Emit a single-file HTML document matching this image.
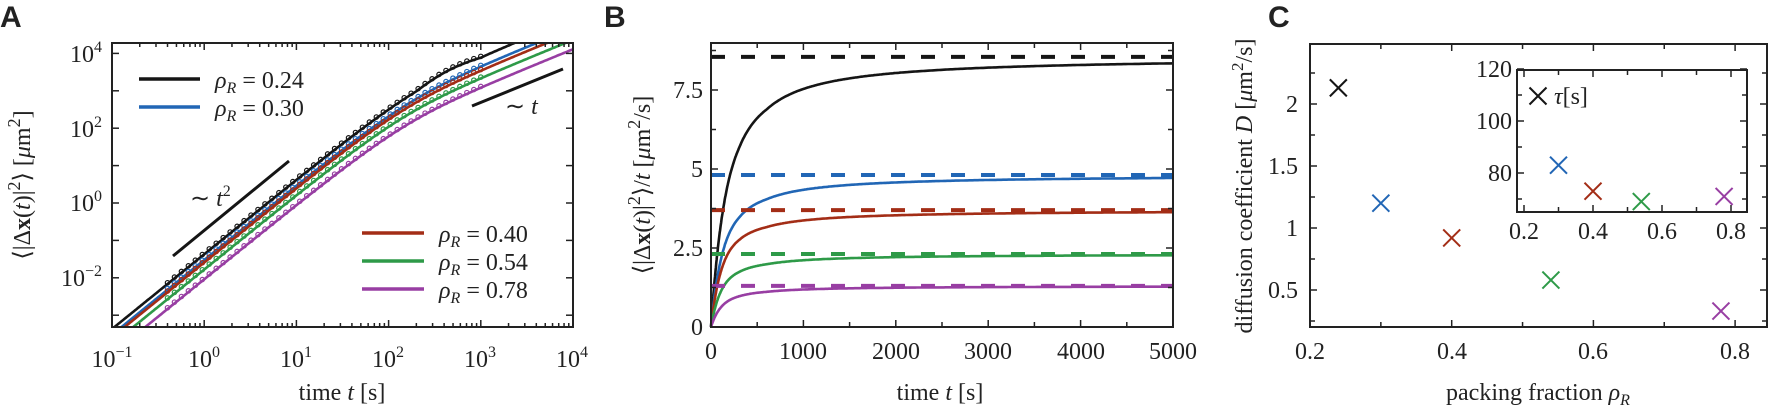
<!DOCTYPE html>
<html><head><meta charset="utf-8"><style>
html,body{margin:0;padding:0;background:#fff;}
svg{display:block;font-family:"Liberation Serif",serif;}
.t{font-size:24px;fill:#222;}
.L{font-family:"Liberation Sans",sans-serif;font-weight:bold;font-size:30px;fill:#222;}
</style></head><body>
<svg id="s" width="1772" height="407" viewBox="0 0 1772 407" xmlns="http://www.w3.org/2000/svg">
<g id="g"></g>
<text class="L" x="0" y="27">A</text>
<text class="L" x="604" y="27">B</text>
<text class="L" x="1268" y="27">C</text>

<g class="t" text-anchor="end">
<text x="102" y="62">10<tspan dy="-10" font-size="16">4</tspan></text>
<text x="102" y="137">10<tspan dy="-10" font-size="16">2</tspan></text>
<text x="102" y="211">10<tspan dy="-10" font-size="16">0</tspan></text>
<text x="102" y="286">10<tspan dy="-10" font-size="16">−2</tspan></text>
</g>
<g class="t" text-anchor="middle">
<text x="112" y="367">10<tspan dy="-10" font-size="16">−1</tspan></text>
<text x="204" y="367">10<tspan dy="-10" font-size="16">0</tspan></text>
<text x="296" y="367">10<tspan dy="-10" font-size="16">1</tspan></text>
<text x="388" y="367">10<tspan dy="-10" font-size="16">2</tspan></text>
<text x="480" y="367">10<tspan dy="-10" font-size="16">3</tspan></text>
<text x="572" y="367">10<tspan dy="-10" font-size="16">4</tspan></text>
<text x="342" y="400">time <tspan font-style="italic">t</tspan> [s]</text>
</g>
<text class="t" transform="translate(30,185) rotate(-90)" text-anchor="middle" font-size="28">⟨|Δ<tspan font-weight="bold">x</tspan>(<tspan font-style="italic">t</tspan>)|<tspan dy="-10" font-size="18">2</tspan><tspan dy="10">⟩ [</tspan><tspan font-style="italic">μ</tspan>m<tspan dy="-10" font-size="18">2</tspan><tspan dy="10">]</tspan></text>
<g class="t" font-size="25">
<text x="215" y="88"><tspan font-style="italic">ρ</tspan><tspan font-style="italic" font-size="16" dy="5">R</tspan><tspan dy="-5"> = 0.24</tspan></text>
<text x="215" y="116"><tspan font-style="italic">ρ</tspan><tspan font-style="italic" font-size="16" dy="5">R</tspan><tspan dy="-5"> = 0.30</tspan></text>
<text x="439" y="242"><tspan font-style="italic">ρ</tspan><tspan font-style="italic" font-size="16" dy="5">R</tspan><tspan dy="-5"> = 0.40</tspan></text>
<text x="439" y="270"><tspan font-style="italic">ρ</tspan><tspan font-style="italic" font-size="16" dy="5">R</tspan><tspan dy="-5"> = 0.54</tspan></text>
<text x="439" y="298"><tspan font-style="italic">ρ</tspan><tspan font-style="italic" font-size="16" dy="5">R</tspan><tspan dy="-5"> = 0.78</tspan></text>
<text x="190" y="206">∼ <tspan font-style="italic">t</tspan><tspan dy="-10" font-size="16">2</tspan></text>
<text x="505" y="114">∼ <tspan font-style="italic">t</tspan></text>
</g>

<g class="t" text-anchor="end">
<text x="703" y="335">0</text>
<text x="703" y="256">2.5</text>
<text x="703" y="177">5</text>
<text x="703" y="98">7.5</text>
</g>
<g class="t" text-anchor="middle">
<text x="711" y="359">0</text>
<text x="803" y="359">1000</text>
<text x="896" y="359">2000</text>
<text x="988" y="359">3000</text>
<text x="1081" y="359">4000</text>
<text x="1173" y="359">5000</text>
<text x="940" y="400">time <tspan font-style="italic">t</tspan> [s]</text>
</g>
<text class="t" transform="translate(650,185) rotate(-90)" text-anchor="middle" font-size="28">⟨|Δ<tspan font-weight="bold">x</tspan>(<tspan font-style="italic">t</tspan>)|<tspan dy="-10" font-size="18">2</tspan><tspan dy="10">⟩/</tspan><tspan font-style="italic">t</tspan> [<tspan font-style="italic">μ</tspan>m<tspan dy="-10" font-size="18">2</tspan><tspan dy="10">/s]</tspan></text>

<g class="t" text-anchor="end">
<text x="1298" y="112">2</text>
<text x="1298" y="174">1.5</text>
<text x="1298" y="236">1</text>
<text x="1298" y="298">0.5</text>
<text x="1512" y="77">120</text>
<text x="1512" y="129">100</text>
<text x="1512" y="181">80</text>
</g>
<g class="t" text-anchor="middle">
<text x="1310" y="359">0.2</text>
<text x="1452" y="359">0.4</text>
<text x="1593" y="359">0.6</text>
<text x="1735" y="359">0.8</text>
<text x="1524" y="239">0.2</text>
<text x="1593" y="239">0.4</text>
<text x="1662" y="239">0.6</text>
<text x="1731" y="239">0.8</text>
<text x="1538" y="400">packing fraction <tspan font-style="italic">ρ</tspan><tspan font-style="italic" font-size="16" dy="5">R</tspan></text>
</g>
<text class="t" transform="translate(1252,186) rotate(-90)" text-anchor="middle" font-size="26">diffusion coefficient <tspan font-style="italic">D</tspan> [<tspan font-style="italic">μ</tspan>m<tspan dy="-9" font-size="17">2</tspan><tspan dy="9">/s]</tspan></text>
<text class="t" x="1554" y="104" font-size="26"><tspan font-style="italic">τ</tspan>[s]</text>
</svg>
<script>
var NS="http://www.w3.org/2000/svg",G=document.getElementById("g");
function el(n,a){var e=document.createElementNS(NS,n);for(var k in a)e.setAttribute(k,a[k]);G.appendChild(e);return e;}
function line(x1,y1,x2,y2,c,w,extra){var a={x1:x1,y1:y1,x2:x2,y2:y2,stroke:c||"#222","stroke-width":w||1.5};for(var k in extra)a[k]=extra[k];return el("line",a);}
var C=["#151515","#2166b5","#a32d16","#2e9a48","#983ea3"];
var L=[8.55,4.81,3.70,2.31,1.30], T=[100,80,72,69,71];
var ax0=112,ax1=573,ay0=43,ay1=327,dec=(ax1-ax0)/5;
function AX(t){return ax0+(Math.log10(t)+1)*dec;}
function AY(m){return 203-Math.log10(m)*37.4;}
var cpp=el("clipPath",{id:"ca"});var cp=document.createElementNS(NS,"rect");cpp.appendChild(cp);
cp.setAttribute("x",ax0);cp.setAttribute("y",ay0);cp.setAttribute("width",ax1-ax0);cp.setAttribute("height",ay1-ay0);
for(var i=0;i<5;i++){
 var p="";
 for(var k=0;k<=300;k++){var lt=-1+5*k/300,t=Math.pow(10,lt);var m=L[i]*(t-T[i]*(1-Math.exp(-t/T[i])));
  if(t<1000&&i==0&&t>200) m*=1+0.18*Math.sin(Math.PI*(Math.log10(t)-2.3)/0.7);
  p+=(k?"L":"M")+AX(t).toFixed(1)+","+AY(m).toFixed(1);}
 el("path",{d:p,fill:"none",stroke:C[i],"stroke-width":2.6,"clip-path":"url(#ca)"});
 for(var k=0;k<=45;k++){var lt=Math.log10(0.4)+(3-Math.log10(0.4))*k/45,t=Math.pow(10,lt);var m=L[i]*(t-T[i]*(1-Math.exp(-t/T[i])))*1.08;
  if(i==0&&t>200) m*=1+0.18*Math.sin(Math.PI*(Math.log10(t)-2.3)/0.7);
  el("circle",{cx:AX(t),cy:AY(m),r:2.2,fill:"none",stroke:C[i],"stroke-width":1.2,"clip-path":"url(#ca)"});}
}
el("rect",{x:ax0,y:ay0,width:ax1-ax0,height:ay1-ay0,fill:"none",stroke:"#222","stroke-width":2});
for(var d=-1;d<4;d++)for(var j=1;j<10;j++){var x=AX(j*Math.pow(10,d)),h=j==1?7:4;line(x,ay1,x,ay1-h);line(x,ay0,x,ay0+h);}
for(var d=-3;d<=4;d++){var y=AY(Math.pow(10,d));line(ax0,y,ax0+7,y);line(ax1,y,ax1-7,y);}
line(173,256,289,161,"#151515",3);line(472,106,563,69,"#151515",3);
line(139,79,200,79,C[0],3.5);line(139,107,200,107,C[1],3.5);
line(362,233,424,233,C[2],3.5);line(362,261,424,261,C[3],3.5);line(362,289,424,289,C[4],3.5);
var bx0=711,bx1=1173;function BX(t){return bx0+t*(bx1-bx0)/5000;}function BY(v){return 327-v*31.6;}
for(var i=0;i<5;i++){
 line(bx0,BY(L[i]),bx1,BY(L[i]),C[i],4,{"stroke-dasharray":"14 16"});
 var p="M"+bx0+",327";
 for(var k=1;k<=400;k++){var t=5000*Math.pow(k/400,2);var v=L[i]*(1-(T[i]/t)*(1-Math.exp(-t/T[i])))*(1-0.035*Math.pow(T[i]/100,0.5)*Math.min(1,600/(t+1e-9))*(t>300?1:t/300));
  p+="L"+BX(t).toFixed(1)+","+BY(v).toFixed(1);}
 el("path",{d:p,fill:"none",stroke:C[i],"stroke-width":2.6});
}
el("rect",{x:bx0,y:43,width:bx1-bx0,height:284,fill:"none",stroke:"#222","stroke-width":2});
for(var t=0;t<=5000;t+=500){var x=BX(t),h=t%1000?5:7;line(x,327,x,327-h);line(x,43,x,43+h);}
for(var v=0;v<=8.75;v+=1.25){var y=BY(v),h=(v%2.5)?5:7;line(bx0,y,bx0+h,y);line(bx1,y,bx1-h,y);}
var cx0=1310,cx1=1767;function CX(r){return 1310+(r-0.2)*708.5;}function CY(D){return 228-(D-1)*124;}
el("rect",{x:cx0,y:44,width:cx1-cx0,height:283,fill:"none",stroke:"#222","stroke-width":2});
for(var r=0.2;r<=0.86;r+=0.1){var x=CX(r),h=(Math.round(r*10)%2==0)?7:5;line(x,327,x,327-h);line(x,44,x,44+h);}
for(var D=0.25;D<=2.3;D+=0.25){var y=CY(D),h=(Math.round(D*4)%2==0)?7:5;line(cx0,y,cx0+h,y);line(cx1,y,cx1-h,y);}
function X(x,y,c,s){line(x-s,y-s,x+s,y+s,c,2);line(x-s,y+s,x+s,y-s,c,2);}
var R=[0.24,0.30,0.40,0.54,0.78],DD=[2.13,1.2,0.92,0.58,0.33];
for(var i=0;i<5;i++)X(CX(R[i]),CY(DD[i]),C[i],8.5);
el("rect",{x:1517,y:70,width:230,height:142,fill:"#fff",stroke:"#222","stroke-width":2});
function IX(r){return 1524+(r-0.2)*345;}function IY(v){return 69+(120-v)*2.6;}
for(var r=0.2;r<=0.86;r+=0.1){var x=IX(r),h=(Math.round(r*10)%2==0)?7:5;line(x,212,x,212-h);line(x,70,x,70+h);}
for(var v=70;v<=120;v+=10){var y=IY(v),h=(v%20==0)?7:5;line(1517,y,1517+h,y);line(1747,y,1747-h,y);}
var TT=[0,83,73,69,71];
for(var i=1;i<5;i++)X(IX(R[i]),IY(TT[i]),C[i],8.5);
X(1538,96,"#151515",8.5);
</script>
</body></html>
